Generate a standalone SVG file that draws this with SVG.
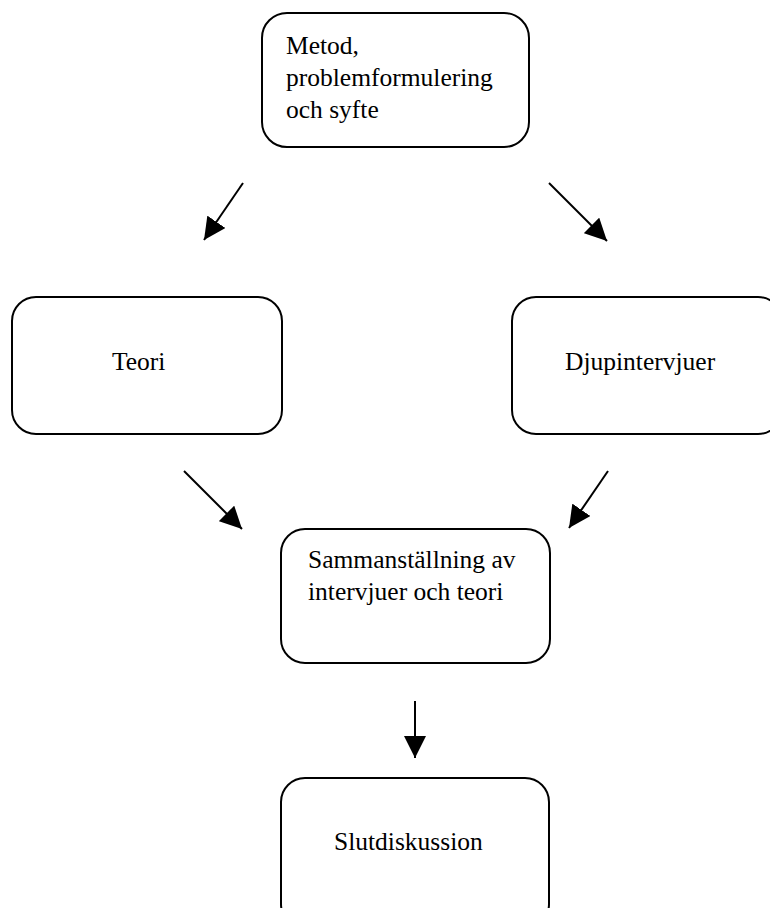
<svg xmlns="http://www.w3.org/2000/svg" width="770" height="908" viewBox="0 0 770 908">
<style>
.box{fill:#fff;stroke:#000;stroke-width:2}
.t{font-family:"Liberation Serif","Times New Roman",serif;font-size:25.5px;fill:#000}
.c{stroke:#000;stroke-width:2;fill:none}
</style>
<defs>
<marker id="ah" viewBox="0 0 22 22" refX="22" refY="11" markerWidth="22" markerHeight="22" markerUnits="userSpaceOnUse" orient="auto">
<path d="M0,0 L22,11 L0,22 z" fill="#000"/>
</marker>
</defs>
<rect width="770" height="908" fill="#fff"/>
<g id="node-metod">
<rect class="box" x="262" y="13" width="267" height="134" rx="25"/>
<text class="t" x="286" y="54">Metod,</text>
<text class="t" x="286" y="86">problemformulering</text>
<text class="t" x="286" y="118">och syfte</text>
</g>
<g id="node-teori">
<rect class="box" x="12" y="297" width="270" height="137" rx="24"/>
<text class="t" x="112" y="370">Teori</text>
</g>
<g id="node-djup">
<rect class="box" x="512" y="297" width="270" height="137" rx="24"/>
<text class="t" x="565" y="370">Djupintervjuer</text>
</g>
<g id="node-samman">
<rect class="box" x="281" y="529" width="269" height="134" rx="24"/>
<text class="t" x="308" y="568">Sammanställning av</text>
<text class="t" x="308" y="600">intervjuer och teori</text>
</g>
<g id="node-slut">
<rect class="box" x="281" y="778" width="268" height="150" rx="24"/>
<text class="t" x="334" y="850">Slutdiskussion</text>
</g>
<g id="connectors">
<line class="c" x1="243" y1="183" x2="204" y2="240" marker-end="url(#ah)"/>
<line class="c" x1="549" y1="183" x2="607" y2="241" marker-end="url(#ah)"/>
<line class="c" x1="184" y1="471" x2="242" y2="529" marker-end="url(#ah)"/>
<line class="c" x1="608" y1="471" x2="569" y2="528" marker-end="url(#ah)"/>
<line class="c" x1="415" y1="701" x2="415" y2="758" marker-end="url(#ah)"/>
</g>
</svg>
